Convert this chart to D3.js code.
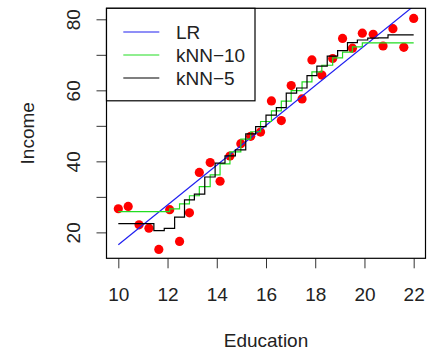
<!DOCTYPE html>
<html>
<head>
<meta charset="utf-8">
<script src="https://cdn.jsdelivr.net/npm/d3@7"></script>
<style>
  body { margin: 0; background: #fff; }
  svg { display: block; font-family: "Liberation Sans", Arial, sans-serif; }
  text { fill: #222; }
</style>
</head>
<body>
<svg width="435" height="353"></svg>
<script>
// observed points
const education = [10.000, 10.401, 10.843, 11.244, 11.645, 12.087, 12.488, 12.890, 13.291, 13.732,
  14.134, 14.535, 14.977, 15.378, 15.779, 16.221, 16.622, 17.023, 17.465, 17.866,
  18.268, 18.709, 19.110, 19.512, 19.913, 20.355, 20.756, 21.157, 21.599, 22.000];
const income = [26.66, 27.31, 22.13, 21.17, 15.19, 26.40, 17.44, 25.51, 36.88, 39.67,
  34.40, 41.50, 44.98, 47.04, 48.25, 57.03, 51.49, 61.34, 57.58, 68.55,
  64.31, 68.96, 74.61, 71.87, 76.10, 75.78, 72.49, 77.36, 72.12, 80.26];

// linear regression fit (end points)
const lrEducation = [10, 22];
const lrIncome = [16.54, 83.73];

// kNN-10 step edges (last edge closes the final step) and levels
const knn10Edges = [10, 12.087, 12.488, 12.890, 13.291, 13.732, 14.134, 14.535, 14.977, 15.378,
  15.779, 16.221, 16.622, 17.023, 17.465, 17.866, 18.268, 18.709, 19.110, 19.512, 19.913, 22];
const knn10Values = [25.84, 26.61, 28.03, 30.31, 32.90, 36.21, 39.27, 42.68, 46.26, 48.33,
  51.22, 54.21, 56.95, 59.92, 62.40, 65.18, 67.06, 69.16, 70.76, 72.22, 73.39];

// kNN-5 step edges and levels
const knn5Edges = [10, 11.043, 11.445, 11.866, 12.288, 12.689, 13.090, 13.512, 13.933, 14.334,
  14.756, 15.177, 15.579, 16.000, 16.421, 16.823, 17.244, 17.666, 18.067, 18.488,
  18.910, 19.311, 19.712, 20.134, 20.555, 20.957, 22];
const knn5Values = [22.49, 22.44, 20.47, 21.14, 24.28, 29.18, 30.78, 35.59, 39.49, 41.52,
  43.23, 47.76, 49.76, 53.03, 55.14, 59.20, 60.65, 64.15, 66.80, 69.66,
  71.17, 73.46, 74.17, 74.72, 74.77, 75.60];

const xTicks = [10, 12, 14, 16, 18, 20, 22];
const yTicks = [20, 30, 40, 50, 60, 70, 80];
const legendLabels = ["LR", "kNN\u221210", "kNN\u22125"];
const legendColors = ["#2020f0", "#22dd22", "#000"];

const svg = d3.select("svg");
const plot = {left: 106.5, right: 425.5, top: 8.3, bottom: 258.3};
const fontSize = "19px";

const x = d3.scaleLinear().domain([9.52, 22.48]).range([plot.left, plot.right]);
const y = d3.scaleLinear().domain([12.7, 83.1]).range([plot.bottom, plot.top]);

svg.append("clipPath")
  .attr("id", "clip")
  .append("rect")
  .attr("x", plot.left)
  .attr("y", plot.top)
  .attr("width", plot.right - plot.left)
  .attr("height", plot.bottom - plot.top);

// axes
const xAxis = svg.append("g")
  .attr("transform", `translate(0,${plot.bottom})`)
  .call(d3.axisBottom(x).tickValues(xTicks).tickSize(10).tickSizeOuter(0));
xAxis.select(".domain").remove();
xAxis.selectAll("line").attr("stroke", "#333");
xAxis.selectAll("text")
  .attr("y", 29)
  .attr("dy", "0.71em")
  .style("font-size", fontSize)
  .style("font-family", "inherit")
  .attr("fill", "#222");

const yAxis = svg.append("g")
  .attr("transform", `translate(${plot.left},0)`)
  .call(d3.axisLeft(y).tickValues(yTicks).tickSize(10)
    .tickFormat(d => d % 20 === 0 ? d : ""));
yAxis.select(".domain").remove();
yAxis.selectAll("line").attr("stroke", "#333");
yAxis.selectAll("text")
  .attr("transform", "rotate(-90)")
  .attr("x", 0)
  .attr("y", -27)
  .attr("dy", 0)
  .attr("text-anchor", "middle")
  .style("font-size", fontSize)
  .style("font-family", "inherit")
  .attr("fill", "#222");

// axis titles
svg.append("text")
  .attr("x", (plot.left + plot.right) / 2)
  .attr("y", 347)
  .attr("text-anchor", "middle")
  .style("font-size", fontSize)
  .text("Education");

svg.append("text")
  .attr("transform", `translate(34,${(plot.top + plot.bottom) / 2}) rotate(-90)`)
  .attr("text-anchor", "middle")
  .style("font-size", fontSize)
  .text("Income");

// points
svg.append("g")
  .selectAll("circle")
  .data(education)
  .enter().append("circle")
  .attr("cx", d => x(d))
  .attr("cy", (d, i) => y(income[i]))
  .attr("r", 4.6)
  .attr("fill", "#ff0000");

const lines = svg.append("g").attr("clip-path", "url(#clip)");

const lineGen = d3.line().x(d => x(d[0])).y(d => y(d[1]));
const stepGen = d3.line().x(d => x(d[0])).y(d => y(d[1])).curve(d3.curveStepAfter);

lines.append("path")
  .attr("d", lineGen(lrEducation.map((e, i) => [e, lrIncome[i]])))
  .attr("fill", "none")
  .attr("stroke", legendColors[0])
  .attr("stroke-width", 1.2);

lines.append("path")
  .attr("d", stepGen(knn10Edges.map((e, i) => [e, knn10Values[Math.min(i, knn10Values.length - 1)]])))
  .attr("fill", "none")
  .attr("stroke", legendColors[1])
  .attr("stroke-width", 1.2);

lines.append("path")
  .attr("d", stepGen(knn5Edges.map((e, i) => [e, knn5Values[Math.min(i, knn5Values.length - 1)]])))
  .attr("fill", "none")
  .attr("stroke", legendColors[2])
  .attr("stroke-width", 1.2);

// plot box
svg.append("rect")
  .attr("x", plot.left)
  .attr("y", plot.top)
  .attr("width", plot.right - plot.left)
  .attr("height", plot.bottom - plot.top)
  .attr("fill", "none")
  .attr("stroke", "#000")
  .attr("stroke-width", 1.2);

// legend
svg.append("rect")
  .attr("x", plot.left)
  .attr("y", plot.top)
  .attr("width", 148.5)
  .attr("height", 92.5)
  .attr("fill", "#fff")
  .attr("stroke", "#000")
  .attr("stroke-width", 1.2);

const legend = svg.selectAll(".legend")
  .data(legendLabels)
  .enter().append("g")
  .attr("class", "legend")
  .attr("transform", (d, i) => `translate(0,${32 + i * 23})`);

legend.append("line")
  .attr("x1", 123.3)
  .attr("x2", 159.3)
  .attr("stroke", (d, i) => legendColors[i])
  .attr("stroke-width", 1.2);

legend.append("text")
  .attr("x", 176)
  .attr("dy", "0.35em")
  .style("font-size", fontSize)
  .text(d => d);
</script>
</body>
</html>
